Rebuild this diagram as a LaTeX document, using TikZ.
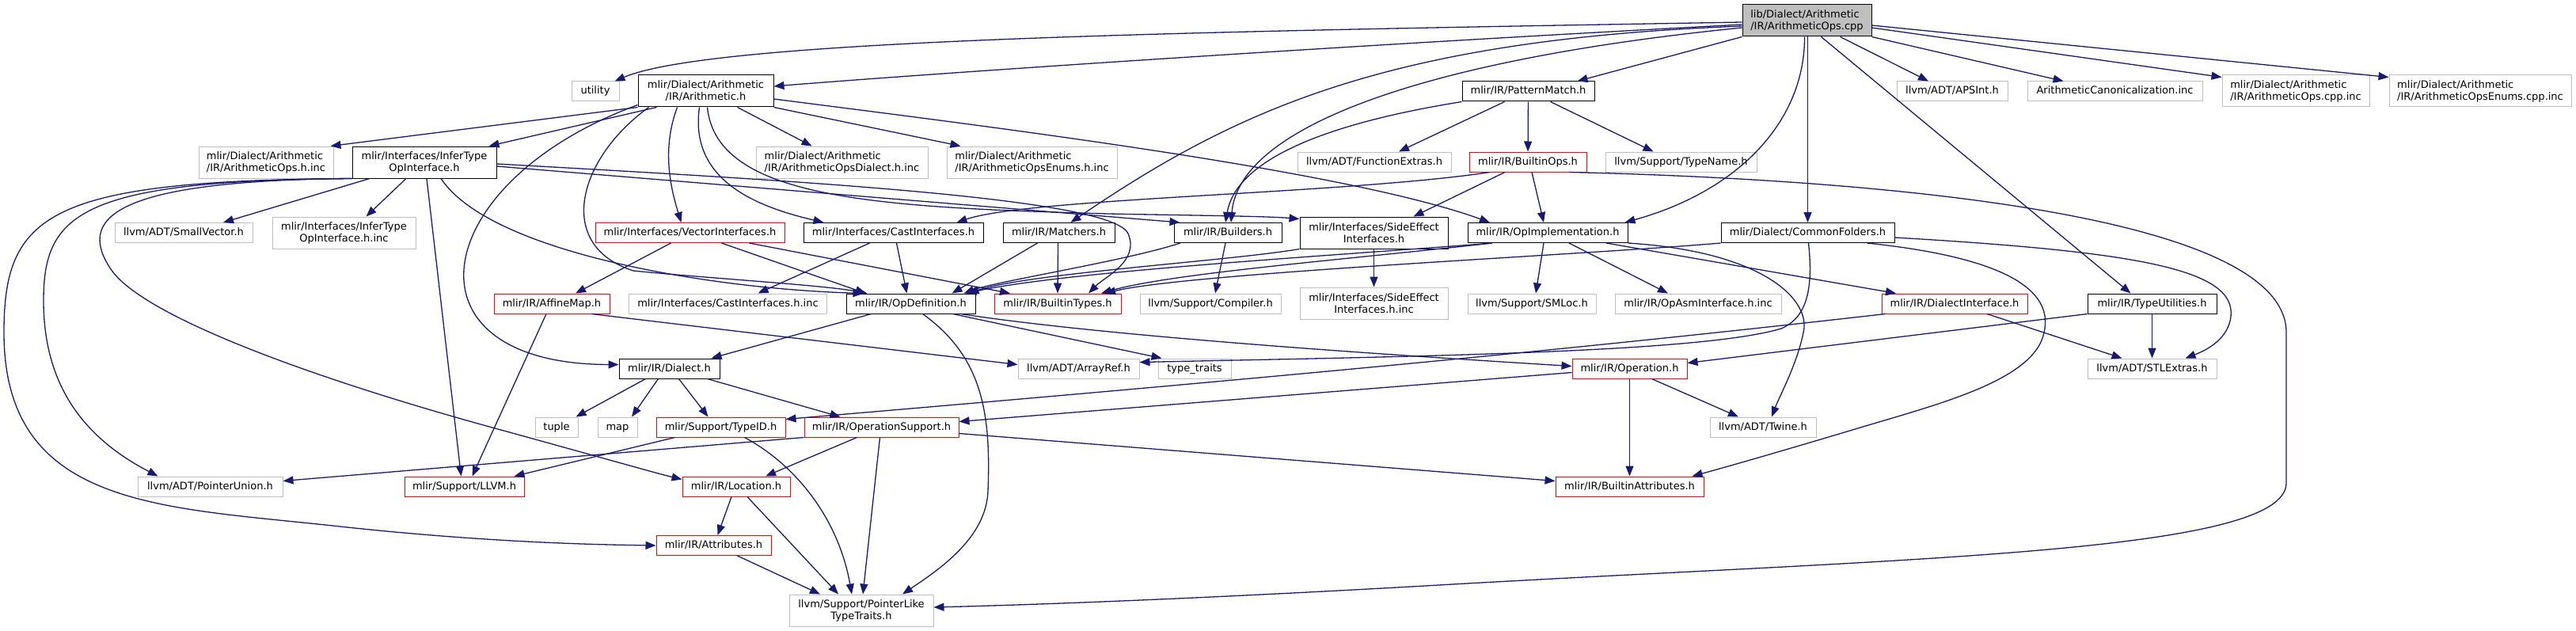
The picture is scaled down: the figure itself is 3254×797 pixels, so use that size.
\documentclass[tikz,border=0pt]{standalone}
\usepackage{fontspec}
\setmainfont{DejaVu Sans}
\usetikzlibrary{arrows.meta}
\definecolor{edgec}{HTML}{191970}
\definecolor{grayb}{HTML}{BFBFBF}
\definecolor{rootf}{HTML}{BFBFBF}
\tikzset{
  base/.style={rectangle, inner sep=0pt, line width=1pt, fill=white, align=center},
  one/.style={base, minimum height=25pt, text height=10pt, text depth=3pt},
  two/.style={base, minimum height=40pt},
  gcol/.style={draw=grayb},
  bcol/.style={draw=black},
  rcol/.style={draw=red},
  e/.style={draw=edgec, line width=1.3pt, -{Triangle[length=13pt,width=10pt]}}
}
\begin{document}
\begin{tikzpicture}[x=1pt,y=-1pt,font=\fontsize{13}{15}\selectfont]
\useasboundingbox (0,0) rectangle (3254,797);
% row 0
\node[two,bcol,fill=rootf,align=left,minimum width=163pt] (A) at (2282.5,26) {lib/Dialect/Arithmetic\\/IR/ArithmeticOps.cpp};
% row 1
\node[one,gcol,minimum width=60pt] (utility) at (752,115.5) {utility};
\node[two,bcol,minimum width=171pt] (AR) at (891.5,115) {mlir/Dialect/Arithmetic\\/IR/Arithmetic.h};
\node[one,bcol,minimum width=167pt] (PM) at (1930.5,115.5) {mlir/IR/PatternMatch.h};
\node[one,gcol,minimum width=140pt] (APSInt) at (2466,115.5) {llvm/ADT/APSInt.h};
\node[one,gcol,minimum width=221pt] (Canon) at (2671.5,115.5) {ArithmeticCanonicalization.inc};
\node[two,gcol,align=left,minimum width=186pt] (OpsCppInc) at (2900,115) {mlir/Dialect/Arithmetic\\/IR/ArithmeticOps.cpp.inc};
\node[two,gcol,align=left,minimum width=230pt] (EnumsCppInc) at (3133,115) {mlir/Dialect/Arithmetic\\/IR/ArithmeticOpsEnums.cpp.inc};
% row 2
\node[two,gcol,align=left,minimum width=170pt] (OpsHInc) at (336,205) {mlir/Dialect/Arithmetic\\/IR/ArithmeticOps.h.inc};
\node[two,bcol,minimum width=182pt] (IT) at (536,205) {mlir/Interfaces/InferType\\OpInterface.h};
\node[two,gcol,align=left,minimum width=217pt] (DialectHInc) at (1063.5,205) {mlir/Dialect/Arithmetic\\/IR/ArithmeticOpsDialect.h.inc};
\node[two,gcol,align=left,minimum width=215pt] (EnumsHInc) at (1303.5,205) {mlir/Dialect/Arithmetic\\/IR/ArithmeticOpsEnums.h.inc};
\node[one,gcol,minimum width=194pt] (FuncExtras) at (1736,204.5) {llvm/ADT/FunctionExtras.h};
\node[one,rcol,minimum width=148pt] (BOps) at (1930,204.5) {mlir/IR/BuiltinOps.h};
\node[one,gcol,minimum width=191pt] (TypeName) at (2123.5,204.5) {llvm/Support/TypeName.h};
% row 3
\node[one,gcol,minimum width=174pt] (SmallVec) at (232,294) {llvm/ADT/SmallVector.h};
\node[two,gcol,minimum width=181pt] (ITInc) at (434.5,294) {mlir/Interfaces/InferType\\OpInterface.h.inc};
\node[one,rcol,minimum width=239pt] (VI) at (871.5,294) {mlir/Interfaces/VectorInterfaces.h};
\node[one,bcol,minimum width=227pt] (CI) at (1128.5,294) {mlir/Interfaces/CastInterfaces.h};
\node[one,bcol,minimum width=141pt] (Match) at (1337.5,294) {mlir/IR/Matchers.h};
\node[one,bcol,minimum width=136pt] (Build) at (1551,294) {mlir/IR/Builders.h};
\node[two,bcol,minimum width=187pt] (SE) at (1735.5,294) {mlir/Interfaces/SideEffect\\Interfaces.h};
\node[one,bcol,minimum width=202pt] (OI) at (1955,294) {mlir/IR/OpImplementation.h};
\node[one,bcol,minimum width=219pt] (CF) at (2283.5,294) {mlir/Dialect/CommonFolders.h};
% row 4
\node[one,rcol,minimum width=146pt] (AM) at (697,383.5) {mlir/IR/AffineMap.h};
\node[one,gcol,minimum width=250pt] (CIInc) at (919.5,383.5) {mlir/Interfaces/CastInterfaces.h.inc};
\node[one,bcol,minimum width=163pt] (OD) at (1150.5,383.5) {mlir/IR/OpDefinition.h};
\node[one,rcol,minimum width=160pt] (BT) at (1336,383.5) {mlir/IR/BuiltinTypes.h};
\node[one,gcol,minimum width=178pt] (Compiler) at (1529,383.5) {llvm/Support/Compiler.h};
\node[two,gcol,minimum width=187pt] (SEInc) at (1735.5,383) {mlir/Interfaces/SideEffect\\Interfaces.h.inc};
\node[one,gcol,minimum width=162pt] (SMLoc) at (1935,383.5) {llvm/Support/SMLoc.h};
\node[one,gcol,minimum width=210pt] (OpAsm) at (2145,383.5) {mlir/IR/OpAsmInterface.h.inc};
\node[one,rcol,minimum width=184pt] (DI) at (2469,383.5) {mlir/IR/DialectInterface.h};
\node[one,bcol,minimum width=163pt] (TU) at (2718.5,383.5) {mlir/IR/TypeUtilities.h};
% row 5
\node[one,bcol,minimum width=127pt] (Dia) at (845.5,465.5) {mlir/IR/Dialect.h};
\node[one,gcol,minimum width=153pt] (ArrayRef) at (1362.5,465.5) {llvm/ADT/ArrayRef.h};
\node[one,gcol,minimum width=92pt] (TT) at (1509,465.5) {type\_traits};
\node[one,rcol,minimum width=145pt] (Op) at (2058.5,465.5) {mlir/IR/Operation.h};
\node[one,gcol,minimum width=163pt] (STL) at (2718.5,465.5) {llvm/ADT/STLExtras.h};
% row 6
\node[one,gcol,minimum width=54pt] (tuple) at (703,539.5) {tuple};
\node[one,gcol,minimum width=50pt] (map) at (780,539.5) {map};
\node[one,rcol,minimum width=163pt] (TID) at (910.5,539.5) {mlir/Support/TypeID.h};
\node[one,rcol,minimum width=195pt] (OS) at (1113.5,539.5) {mlir/IR/OperationSupport.h};
\node[one,gcol,minimum width=134pt] (Twine) at (2227,539.5) {llvm/ADT/Twine.h};
% row 7
\node[one,gcol,minimum width=183pt] (PU) at (265.5,614.5) {llvm/ADT/PointerUnion.h};
\node[one,rcol,minimum width=151pt] (LLVM) at (586.5,614.5) {mlir/Support/LLVM.h};
\node[one,rcol,minimum width=136pt] (Loc) at (930,614.5) {mlir/IR/Location.h};
\node[one,rcol,minimum width=187pt] (BA) at (2058.5,614.5) {mlir/IR/BuiltinAttributes.h};
% row 8, 9
\node[one,rcol,minimum width=145pt] (Attr) at (901.5,689) {mlir/IR/Attributes.h};
\node[two,gcol,minimum width=182pt] (PLT) at (1088,771) {llvm/Support/PointerLike\\TypeTraits.h};

% ---- edges from ArithmeticOps.cpp
\draw[e] ([yshift=-2pt]A.west) .. controls (1500,40) and (900,50) .. ([xshift=-6pt]utility.north east);
\draw[e] ([yshift=-5pt]A.west) .. controls (1650,60) and (1150,95) .. ([yshift=6pt]AR.east);
\draw[e] ([yshift=-7pt]A.west) .. controls (1750,50) and (1560,140) .. ([xshift=15pt]Match.north);
\draw[e] ([yshift=-9pt]A.west) .. controls (1800,75) and (1565,160) .. ([xshift=4pt]Build.north);
\draw[e] (A.south west) -- ([xshift=-22pt]PM.north east);
\draw[e] ([xshift=-3pt]A.south) .. controls (2280,150) and (2200,240) .. ([xshift=-4pt]OI.north east);
\draw[e] ([xshift=1pt]A.south) -- (CF.north);
\draw[e] ([xshift=18pt]A.south) -- ([xshift=-27pt]TU.north);
\draw[e] ([xshift=42pt]A.south) -- ([xshift=-30pt]APSInt.north);
\draw[e] (A.south east) -- ([xshift=-65pt]Canon.north);
\draw[e] ([yshift=-9pt]A.east) -- ([yshift=-3pt]OpsCppInc.north west);
\draw[e] ([yshift=-6pt]A.east) -- ([yshift=-3pt]EnumsCppInc.north west);
% ---- edges from Arithmetic.h
\draw[e] (AR.south west) -- ([xshift=-4pt]OpsHInc.north east);
\draw[e] ([xshift=24pt]AR.south west) -- ([xshift=-10pt]IT.north east);
\draw[e] ([yshift=3pt]AR.south west) .. controls (540,230) and (500,460) .. ([yshift=5pt]Dia.west);
\draw[e] ([xshift=14pt]AR.south west) .. controls (730,200) and (700,310) .. (800,342) .. controls (900,352) and (1040,360) .. ([xshift=-55pt]OD.north);
\draw[e] ([xshift=-36pt]AR.south) .. controls (835,190) and (848,240) .. ([xshift=-11pt]VI.north);
\draw[e] ([xshift=-8pt]AR.south) .. controls (870,230) and (960,262) .. ([xshift=-88pt]CI.north);
\draw[e] ([xshift=2pt]AR.south) .. controls (905,250) and (1100,262) .. (1400,270) .. controls (1500,272) and (1600,273) .. ([yshift=-3pt]SE.north west);
\draw[e] ([xshift=40pt]AR.south) -- ([xshift=-38pt]DialectHInc.north);
\draw[e] (AR.south east) -- ([xshift=-90pt]EnumsHInc.north);
\draw[e] ([yshift=-10pt]AR.east) .. controls (1250,160) and (1700,215) .. ([xshift=-73pt]OI.north);
% ---- edges from InferTypeOpInterface.h
\draw[e] ([xshift=-69pt]IT.south) -- ([xshift=50pt]SmallVec.north);
\draw[e] ([xshift=-23pt]IT.south) -- ([xshift=28pt]ITInc.north);
\draw[e] ([xshift=3pt]IT.south) -- ([xshift=-4pt]LLVM.north);
\draw[e] ([xshift=21pt]IT.south) .. controls (620,320) and (900,365) .. ([xshift=-60pt]OD.north);
\draw[e] (IT.south west) .. controls (60,228) and (5,270) .. (5,420) .. controls (5,640) and (200,640) .. (420,664) .. controls (620,686) and (760,688) .. (Attr.west);
\draw[e] (IT.south west) .. controls (100,228) and (55,270) .. (55,380) .. controls (55,500) and (120,560) .. ([xshift=-66pt]PU.north);
\draw[e] (IT.south west) .. controls (130,228) and (100,280) .. (140,340) .. controls (180,400) and (400,480) .. (640,545) .. controls (760,578) and (830,598) .. ([yshift=-4pt]Loc.north west);
\draw[e] ([yshift=-5pt]IT.east) -- ([xshift=8pt]Build.north west);
\draw[e] ([yshift=-2pt]IT.east) .. controls (1000,228) and (1405,250) .. (1425,295) .. controls (1440,330) and (1395,350) .. ([xshift=39pt]BT.north);
% ---- PatternMatch.h
\draw[e] ([xshift=-30pt]PM.south) -- ([xshift=31pt]FuncExtras.north);
\draw[e] (PM) -- (BOps);
\draw[e] ([xshift=28pt]PM.south) -- ([xshift=-35pt]TypeName.north);
\draw[e] (PM.south west) .. controls (1650,160) and (1560,210) .. ([xshift=-3pt]Build.north);
% ---- BuiltinOps.h
\draw[e] ([xshift=-48pt]BOps.south) .. controls (1700,245) and (1300,250) .. ([xshift=80pt]CI.north);
\draw[e] ([xshift=-29pt]BOps.south) -- ([xshift=50pt]SE.north);
\draw[e] ([xshift=5pt]BOps.south) -- ([xshift=-5pt]OI.north);
\draw[e] ([xshift=52pt]BOps.south) .. controls (2300,225) and (2888,260) .. (2888,420) -- (2888,610) .. controls (2888,700) and (2400,705) .. (1800,740) .. controls (1500,757) and (1300,764) .. ([yshift=4pt]PLT.east);
% ---- VectorInterfaces.h
\draw[e] ([xshift=-24pt]VI.south) -- ([xshift=30pt]AM.north);
\draw[e] ([xshift=40pt]VI.south) -- ([xshift=-57pt]OD.north);
\draw[e] ([xshift=75pt]VI.south) -- ([xshift=-60pt]BT.north);
% ---- CastInterfaces.h
\draw[e] ([xshift=-30pt]CI.south) -- ([xshift=38pt]CIInc.north);
\draw[e] ([xshift=4pt]CI.south) -- ([xshift=-5pt]OD.north);
% ---- Matchers.h
\draw[e] ([xshift=-27pt]Match.south) -- ([xshift=52pt]OD.north);
\draw[e] ([xshift=-1pt]Match.south) -- (BT.north);
% ---- Builders.h
\draw[e] ([xshift=-60pt]Build.south) .. controls (1420,330) and (1260,355) .. ([xshift=67pt]OD.north);
\draw[e] ([xshift=-3pt]Build.south) -- ([xshift=6pt]Compiler.north);
% ---- SideEffectInterfaces.h
\draw[e] (SE) -- (SEInc);
\draw[e] (SE.south west) .. controls (1550,330) and (1300,345) .. ([xshift=73pt]OD.north);
% ---- OpImplementation.h
\draw[e] ([xshift=-70pt]OI.south) .. controls (1700,322) and (1350,342) .. ([xshift=70pt]OD.north);
\draw[e] ([xshift=-70pt]OI.south) .. controls (1700,328) and (1480,345) .. ([xshift=55pt]BT.north);
\draw[e] ([xshift=-5pt]OI.south) -- ([xshift=5pt]SMLoc.north);
\draw[e] ([xshift=27pt]OI.south) -- ([xshift=-38pt]OpAsm.north);
\draw[e] ([xshift=74pt]OI.south) -- ([xshift=-74pt]DI.north);
\draw[e] (OI.south east) .. controls (2230,318) and (2288,380) .. (2278,420) .. controls (2270,460) and (2248,500) .. ([xshift=11pt]Twine.north);
% ---- CommonFolders.h
\draw[e] (CF.south west) .. controls (2000,322) and (1500,345) .. ([xshift=60pt]BT.north);
\draw[e] ([xshift=1pt]CF.south) .. controls (2290,360) and (2285,400) .. (2250,415) .. controls (2150,445) and (1800,450) .. ([yshift=8pt]ArrayRef.east);
\draw[e] ([xshift=75pt]CF.south) .. controls (2530,325) and (2595,365) .. (2582,420) .. controls (2570,480) and (2450,510) .. (2350,540) .. controls (2250,570) and (2180,590) .. ([xshift=-15pt]BA.north east);
\draw[e] ([yshift=-6pt]CF.east) .. controls (2700,318) and (2825,340) .. (2818,400) .. controls (2814,432) and (2780,445) .. ([xshift=42pt]STL.north);
% ---- AffineMap.h
\draw[e] ([xshift=50pt]AM.south) -- ([yshift=5pt]ArrayRef.west);
\draw[e] ([xshift=-7pt]AM.south) -- ([xshift=10pt]LLVM.north);
% ---- OpDefinition.h
\draw[e] ([xshift=-50pt]OD.south) -- ([xshift=53pt]Dia.north);
\draw[e] ([xshift=15pt]OD.south) .. controls (1240,450) and (1252,520) .. (1248,620) .. controls (1246,680) and (1185,720) .. ([xshift=52pt]PLT.north);
\draw[e] ([xshift=53pt]OD.south) -- ([xshift=5pt]TT.north west);
\draw[e] ([xshift=63pt]OD.south) .. controls (1400,425) and (1750,448) .. ([yshift=3pt]Op.west);
% ---- DialectInterface.h
\draw[e] ([xshift=41pt]DI.south) -- ([xshift=-38pt]STL.north);
\draw[e] ([xshift=5pt]DI.south west) .. controls (2000,440) and (1600,478) .. ([yshift=-3pt]TID.north east);
% ---- TypeUtilities.h
\draw[e] (TU.south west) -- ([yshift=7pt]Op.east);
\draw[e] (TU) -- (STL);
% ---- Dialect.h
\draw[e] ([xshift=-30pt]Dia.south) -- ([xshift=-3pt]tuple.north east);
\draw[e] ([xshift=-14pt]Dia.south) -- ([xshift=18pt]map.north);
\draw[e] ([xshift=12pt]Dia.south) -- ([xshift=-16pt]TID.north);
\draw[e] ([xshift=48pt]Dia.south) -- ([xshift=-52pt]OS.north);
% ---- Operation.h
\draw[e] ([yshift=-5pt]Op.west) -- ([yshift=7pt]OS.east);
\draw[e] (Op) -- (BA);
\draw[e] ([xshift=28pt]Op.south) -- ([xshift=-31pt]Twine.north);
% ---- TypeID.h
\draw[e] ([xshift=-58pt]TID.south) -- ([xshift=-13pt]LLVM.north east);
\draw[e] ([xshift=30pt]TID.south) .. controls (1010,590) and (1060,660) .. ([xshift=-12pt]PLT.north);
% ---- OperationSupport.h
\draw[e] (OS.south west) -- ([yshift=7pt]PU.east);
\draw[e] ([xshift=-31pt]OS.south) -- ([xshift=37pt]Loc.north);
\draw[e] ([xshift=-2pt]OS.south) -- ([xshift=2pt]PLT.north);
\draw[e] ([yshift=-8pt]OS.east) -- ([yshift=7pt]BA.west);
% ---- Location.h, Attributes.h
\draw[e] ([xshift=-6pt]Loc.south) -- ([xshift=5pt]Attr.north);
\draw[e] ([xshift=14pt]Loc.south) -- ([xshift=-29pt]PLT.north);
\draw[e] ([xshift=30pt]Attr.south) -- ([xshift=-52pt]PLT.north);
\end{tikzpicture}
\end{document}
